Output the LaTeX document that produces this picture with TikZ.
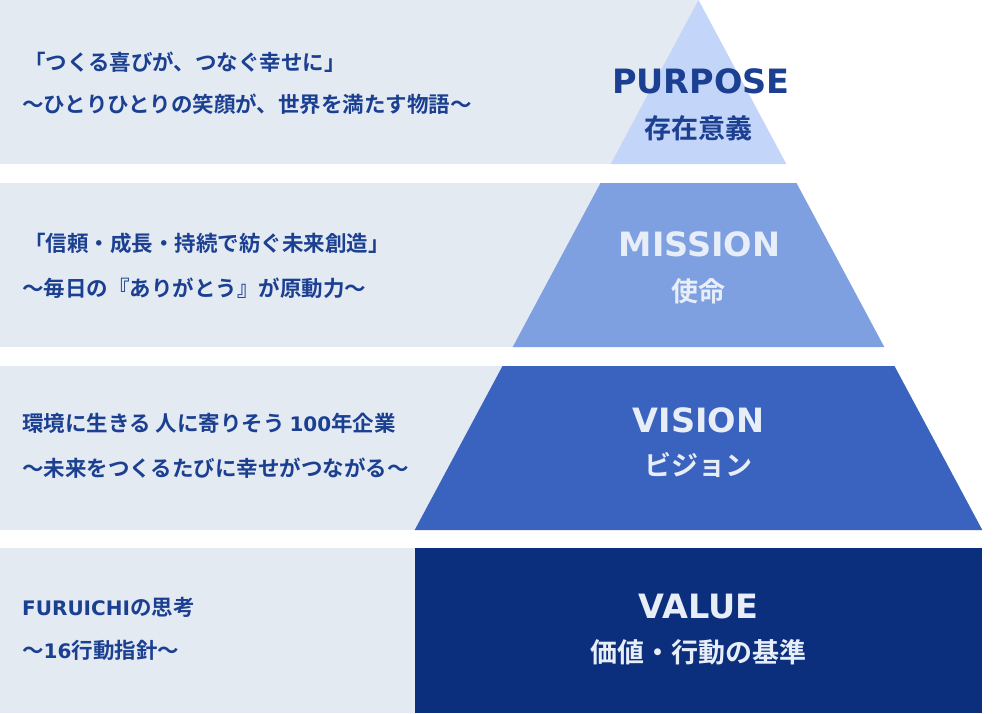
\documentclass[tikz,border=0pt]{standalone}
\usepackage{fontspec}
\newfontfamily\cjk{Noto Sans CJK JP}[BoldFont={Noto Sans CJK JP Bold}]
\newfontfamily\ttl{DejaVu Sans}
\newcommand{\lat}[1]{{\ttl\bfseries\fontsize{20}{20}\selectfont #1}}
\definecolor{bandgray}{HTML}{E4EAF2}
\definecolor{cpurpose}{HTML}{C3D5F8}
\definecolor{cmission}{HTML}{7FA0E0}
\definecolor{cvision}{HTML}{3A62BF}
\definecolor{cvalue}{HTML}{0B2F7D}
\definecolor{navytext}{HTML}{1B3F91}
\definecolor{lighttext}{HTML}{E8EEF8}
\tikzset{
  lefttext/.style={anchor=west,inner sep=0pt,text=navytext,font=\cjk\bfseries\fontsize{21.5}{21.5}\selectfont},
  titleen/.style={inner sep=0pt,font=\ttl\bfseries\fontsize{33.5}{33.5}\selectfont},
  titleja/.style={inner sep=0pt,font=\cjk\bfseries\fontsize{27}{27}\selectfont},
}
\begin{document}
\begin{tikzpicture}[x=1pt,y=-1pt]
\useasboundingbox (0,0) rectangle (1000,713);
\fill[white] (0,0) rectangle (1000,713);
% gray bands
\fill[bandgray] (0,0) rectangle (698,164);
\fill[bandgray] (0,183) rectangle (698,347);
\fill[bandgray] (0,366) rectangle (698,530);
\fill[bandgray] (0,548) rectangle (698,713);
% pyramid
\fill[cpurpose] (698.5,0) -- (786.3,164) -- (610.7,164) -- cycle;
\fill[cmission] (600.5,183) -- (796.5,183) -- (884.3,347) -- (512.7,347) -- cycle;
\fill[cvision] (502.5,366) -- (894.5,366) -- (982.3,530) -- (414.7,530) -- cycle;
\fill[cvalue] (415,548) rectangle (982,713);
% titles
\node[titleen,text=navytext] (tp) at (701,81) {PURPOSE};
\node[titleja,text=navytext] (tpj) at (698.5,128) {存在意義};
\node[titleen,text=lighttext] (tm) at (699.5,244) {MISSION};
\node[titleja,text=lighttext] (tmj) at (698.5,291) {使命};
\node[titleen,text=lighttext] (tv) at (698.5,420) {VISION};
\node[titleja,text=lighttext] (tvj) at (698.5,465) {ビジョン};
\node[titleen,text=lighttext] (tva) at (698.5,607) {VALUE};
\node[titleja,text=lighttext] (tvaj) at (698.5,652) {価値・行動の基準};
% left texts
\node[lefttext] (p1) at (24,62) {「つくる喜びが、つなぐ幸せに」};
\node[lefttext] (p2) at (22,104) {～ひとりひとりの笑顔が、世界を満たす物語～};
\node[lefttext] (m1) at (24,243) {「信頼・成長・持続で紡ぐ未来創造」};
\node[lefttext] (m2) at (22,288) {～毎日の『ありがとう』が原動力～};
\node[lefttext] (v1) at (22,423) {環境に生きる 人に寄りそう \lat{100}年企業};
\node[lefttext] (v2) at (22,468) {～未来をつくるたびに幸せがつながる～};
\node[lefttext] (a1) at (22,607) {\lat{FURUICHI}の思考};
\node[lefttext] (a2) at (22,650) {～\lat{16}行動指針～};
\end{tikzpicture}
\end{document}
